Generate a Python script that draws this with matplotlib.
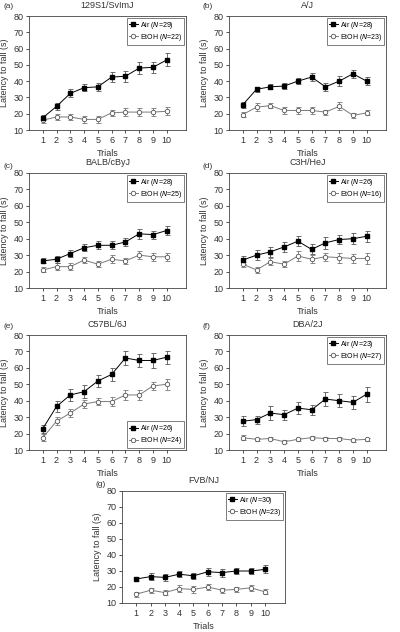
import numpy as np
import matplotlib
matplotlib.use("Agg")
import matplotlib.pyplot as plt

plt.rcParams['font.family'] = ['Liberation Sans', 'DejaVu Sans']
plt.rcParams['font.size'] = 6

trials = np.arange(1, 11)

strains = ['129S1/SvImJ', 'A/J', 'BALB/cByJ', 'C3H/HeJ', 'C57BL/6J', 'DBA/2J', 'FVB/NJ']
panel_labels = ['(a)', '(b)', '(c)', '(d)', '(e)', '(f)', '(g)']
n_air = [29, 28, 28, 26, 26, 23, 30]
n_etoh = [22, 23, 25, 16, 24, 27, 23]

air_mean = [
    [17.5, 24.5, 32.5, 36, 36.5, 42.5, 43, 48, 48.5, 53],
    [25.5, 35, 36.5, 37, 40, 42.5, 36.5, 40, 44.5, 40],
    [26.5, 27.5, 31, 34.5, 36, 36, 38, 43, 42.5, 45],
    [27, 30, 32, 35, 38.5, 33.5, 37.5, 39.5, 40, 41.5],
    [23, 36.5, 43.5, 45.5, 52, 56, 66, 64.5, 64.5, 66.5],
    [27.5, 28.5, 32.5, 31.5, 35.5, 34.5, 41, 40, 39, 44],
    [25, 26.5, 26, 28, 27, 29.5, 29, 30, 30, 31],
]
air_sem = [
    [1.5, 2, 2.5, 2, 2.5, 3, 3.5, 3.5, 3.5, 4],
    [2, 1.5, 1.5, 2, 2, 2.5, 2.5, 3, 2.5, 2.5],
    [1.5, 2, 2, 2, 2.5, 2.5, 2.5, 3, 2.5, 3],
    [2.5, 3, 3, 3, 3, 3, 3.5, 3, 3.5, 3.5],
    [2.5, 3.5, 3.5, 4, 3.5, 4, 4, 4, 4.5, 4],
    [3, 2.5, 4, 3, 3.5, 3, 4.5, 4, 4, 4.5],
    [1.5, 2, 2, 2, 2, 2.5, 2.5, 2, 2, 2.5],
]
etoh_mean = [
    [16, 18, 18, 16.5, 16.5, 20.5, 21, 21, 21, 21.5],
    [19.5, 24, 25, 22, 22, 22, 21, 24.5, 19, 20.5],
    [21, 23, 23, 27, 24.5, 27.5, 26.5, 30, 29, 29],
    [24.5, 21, 26, 24.5, 29.5, 27.5, 29, 28.5, 28, 28],
    [17.5, 27.5, 32.5, 38, 39.5, 39.5, 43.5, 43.5, 49, 50],
    [17.5, 16.5, 17, 15, 16.5, 17.5, 17, 17, 16, 16.5],
    [15.5, 18, 16.5, 19, 18.5, 20, 18, 18.5, 19.5, 17],
]
etoh_sem = [
    [1.5, 2, 2, 2, 2, 2, 2.5, 2.5, 2.5, 2.5],
    [1.5, 2.5, 1.5, 2, 2, 2, 1.5, 2.5, 1.5, 1.5],
    [1.5, 2, 2, 2, 2, 2.5, 2, 2.5, 2.5, 2.5],
    [1.5, 2, 2, 2, 3, 2.5, 2.5, 3, 3, 3.5],
    [2, 2.5, 2.5, 2.5, 2, 2.5, 3, 3, 2.5, 3.5],
    [1.5, 1, 1, 1, 1, 1, 1, 1, 1, 1],
    [1.5, 1.5, 1.5, 2, 2, 2, 1.5, 1.5, 2, 1.5],
]

# axes boxes in pixels: left, top, right, bottom
boxes = [
    (29, 16, 186, 130), (229, 16, 386, 130),
    (29, 173, 186, 288), (229, 173, 386, 288),
    (29, 335, 186, 450), (229, 335, 386, 450),
    (122, 491, 285, 603),
]
# where the (a)...(g) tags sit, in pixels
tag_pos = [(3, 6), (203, 6), (3, 166), (203, 166), (3, 326), (203, 326), (96, 485)]
W, H = 400, 632

fig = plt.figure(figsize=(W / 100, H / 100), dpi=100)

for i in range(7):
    l, t, r, b = boxes[i]
    ax = fig.add_axes([l / W, 1 - b / H, (r - l) / W, (b - t) / H])
    ax.errorbar(trials, air_mean[i], yerr=air_sem[i], fmt='none', ecolor='#555555',
                elinewidth=0.6, capsize=1.8, capthick=0.6, zorder=3)
    ax.plot(trials, air_mean[i], color='black', marker='s', markersize=2.8, lw=0.7,
            zorder=4, label=f'Air ($N$={n_air[i]})')
    ax.errorbar(trials, etoh_mean[i], yerr=etoh_sem[i], fmt='none', ecolor='#777777',
                elinewidth=0.6, capsize=1.8, capthick=0.6, zorder=2)
    ax.plot(trials, etoh_mean[i], color='#7a7a7a', marker='o', markersize=3.2,
            markerfacecolor='white', markeredgecolor='#555555', markeredgewidth=0.6,
            lw=0.7, zorder=3, label=f'EtOH ($N$={n_etoh[i]})')
    ax.set_xlim(0, 11.4)
    ax.set_ylim(10, 80)
    ax.set_xticks(trials)
    ax.set_yticks(np.arange(10, 81, 10))
    ax.tick_params(labelsize=6.5, length=2, width=0.6, pad=2, colors='#333333')
    for s in ax.spines.values():
        s.set_linewidth(0.6)
        s.set_color('#444444')
    ax.set_xlabel('Trials', fontsize=6.5, labelpad=3, color='#333333')
    ax.set_ylabel('Latency to fall (s)', fontsize=6.5, labelpad=3, color='#333333')
    ax.set_title(strains[i], fontsize=6.5, pad=6, color='#333333')
    loc = 'lower right' if i == 4 else 'upper right'
    leg = ax.legend(loc=loc, fontsize=5, frameon=True, fancybox=False, edgecolor='#444444',
                    borderpad=0.3, handlelength=1.3, handletextpad=0.3, labelspacing=0.15,
                    borderaxespad=0.25)
    leg.get_frame().set_linewidth(0.6)
    tx, ty = tag_pos[i]
    fig.text(tx / W, 1 - ty / H, panel_labels[i], fontsize=6, va='center',
             color='#333333')

fig.savefig('out.png', dpi=100)
